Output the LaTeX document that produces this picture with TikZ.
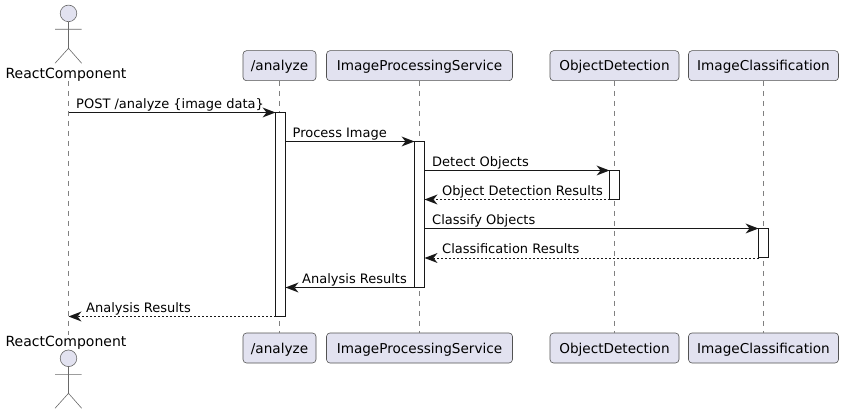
\documentclass[tikz,border=0pt]{standalone}
\usepackage{fontspec}
\setmainfont{DejaVu Sans}
\usetikzlibrary{arrows.meta}
\definecolor{boxfill}{HTML}{E2E2F0}
\definecolor{ink}{HTML}{181818}
\tikzset{
  part/.style={draw=ink!75,fill=boxfill,rounded corners=3.5pt,line width=0.6pt,inner sep=0pt,text=black,font=\fontsize{13.6}{16}\selectfont,minimum height=30pt,text depth=0pt},
  life/.style={draw=ink!55,line width=0.6pt,dash pattern=on 5pt off 5pt},
  act/.style={draw=ink,fill=white,line width=1pt,minimum width=10pt,inner sep=0pt,outer sep=0pt},
  msg/.style={draw=ink,line width=1pt,-{Stealth[length=13pt,width=10pt,inset=4pt,line width=0pt]}},
  ret/.style={draw=ink,line width=0.8pt,dash pattern=on 2pt off 2pt,-{Stealth[length=13pt,width=10pt,inset=4pt,line width=0pt]}},
  lbl/.style={inner sep=0pt,anchor=base west,font=\fontsize{13}{15}\selectfont},
  actorname/.style={inner sep=0pt,anchor=base,font=\fontsize{14}{16}\selectfont},
  stick/.style={draw=ink!65,line width=0.6pt},
  head/.style={circle,draw=ink!65,fill=boxfill,line width=0.6pt,minimum size=16.6pt,inner sep=0pt}
}
\begin{document}
\begin{tikzpicture}[x=1pt,y=-1pt]
\useasboundingbox (0,0) rectangle (844,414);
% participants
\node[part,minimum width=73pt] (pa) at (279.5,65.7) {/analyze};
\node[part,minimum width=186pt] (pi) at (419.5,65.7) {ImageProcessingService};
\node[part,minimum width=129pt] (po) at (614.5,65.7) {ObjectDetection};
\node[part,minimum width=150pt] (pc) at (763.5,65.7) {ImageClassification};
\node[part,minimum width=73pt] (qa) at (279.5,348) {/analyze};
\node[part,minimum width=186pt] (qi) at (419.5,348) {ImageProcessingService};
\node[part,minimum width=129pt] (qo) at (614.5,348) {ObjectDetection};
\node[part,minimum width=150pt] (qc) at (763.5,348) {ImageClassification};
% actor top
\node[actorname] (rt) at (66,78.5) {ReactComponent};
\node[head] (ht) at (68.5,13.4) {};
\coordinate (tb) at (68.5,48.3);
\coordinate (tl) at (55,63.3);
\coordinate (tr) at (81.7,63.3);
\coordinate (tal) at (55,29.3);
\coordinate (tar) at (81.7,29.3);
\draw[stick] (ht.south) -- (tb) (tal) -- (tar) (tl) -- (tb) -- (tr);
% actor bottom
\node[actorname] (rb) at (66,346.5) {ReactComponent};
\node[head] (hb) at (68.5,358.3) {};
\coordinate (bb) at (68.5,393.3);
\coordinate (bl) at (55,408.3);
\coordinate (br) at (81.7,408.3);
\coordinate (bal) at (55,374.3);
\coordinate (bar) at (81.7,374.3);
\draw[stick] (hb.south) -- (bb) (bal) -- (bar) (bl) -- (bb) -- (br);
% lifelines
\coordinate (lt) at (68.5,81);
\coordinate (lb) at (68.5,335);
\draw[life] (lt) -- (lb);
\draw[life] (pa.south) -- (qa.north);
\draw[life] (pi.south) -- (qi.north);
\draw[life] (po.south) -- (qo.north);
\draw[life] (pc.south) -- (qc.north);
% activations
\node[act,minimum height=204pt] (a1) at (280.5,214.5) {};
\node[act,minimum height=146pt] (a2) at (419.5,214.5) {};
\node[act,minimum height=29pt] (a3) at (614.5,185) {};
\node[act,minimum height=29.5pt] (a4) at (763.5,243.25) {};
% messages
\draw[msg] (lt |- a1.north) -- (a1.north west);
\draw[msg] (a1.north east |- a2.north) -- (a2.north west);
\draw[msg] (a2.north east |- a3.north) -- (a3.north west);
\draw[ret] (a3.south west) -- (a2.east |- a3.south);
\draw[msg] (a2.east |- a4.north) -- (a4.north west);
\draw[ret] (a4.south west) -- (a2.east |- a4.south);
\draw[msg] (a2.south west) -- (a1.east |- a2.south);
\draw[ret] (a1.south west) -- (lt |- a1.south);
% labels
\node[lbl] (m1) at (76,108.7) {POST /analyze \{image data\}};
\node[lbl] (m2) at (292.5,137.7) {Process Image};
\node[lbl] (m3) at (432,166.7) {Detect Objects};
\node[lbl] (m4) at (442,195.7) {Object Detection Results};
\node[lbl] (m5) at (432,224.7) {Classify Objects};
\node[lbl] (m6) at (442,253.7) {Classification Results};
\node[lbl] (m7) at (302,283.7) {Analysis Results};
\node[lbl] (m8) at (86,312.7) {Analysis Results};
\end{tikzpicture}
\end{document}
